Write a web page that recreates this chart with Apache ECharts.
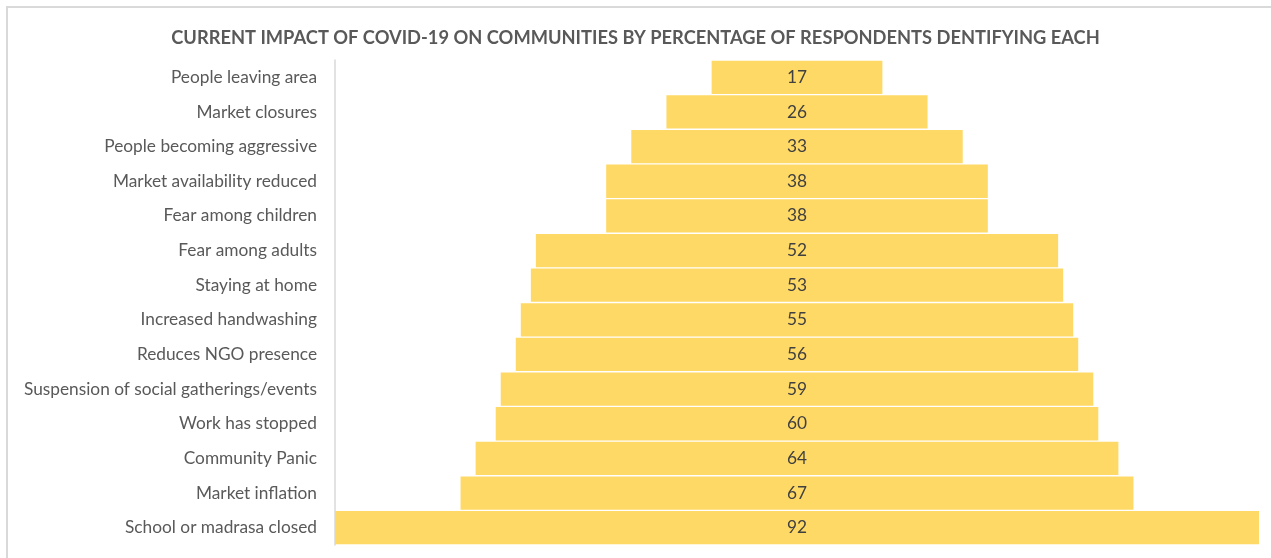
<!DOCTYPE html>
<html>
<head>
<meta charset="utf-8">
<script src="https://cdn.jsdelivr.net/npm/echarts@6/dist/echarts.min.js"></script>
<style>
  html, body { margin: 0; padding: 0; background: #fff; }
  #frame { position: absolute; left: 6px; top: 6px; width: 1275px; height: 560px; border: 2px solid #d9d9d9; box-sizing: border-box; }
  #chart { position: absolute; left: 0; top: 0; width: 1271px; height: 558px; }
</style>
</head>
<body>
<div id="frame"></div>
<div id="chart"></div>
<script>
// Impacts listed top to bottom, with the share of respondents naming each
const categories = [
  'People leaving area',
  'Market closures',
  'People becoming aggressive',
  'Market availability reduced',
  'Fear among children',
  'Fear among adults',
  'Staying at home',
  'Increased handwashing',
  'Reduces NGO presence',
  'Suspension of social gatherings/events',
  'Work has stopped',
  'Community Panic',
  'Market inflation',
  'School or madrasa closed'
];
const values = [17, 26, 33, 38, 38, 52, 53, 55, 56, 59, 60, 64, 67, 92];

const maxValue = Math.max(...values);
// Invisible spacer that centres each bar, giving the funnel shape
const spacer = values.map(v => (maxValue - v) / 2);

const chart = echarts.init(document.getElementById('chart'), null, { renderer: 'canvas' });
const font = 'Lato, sans-serif';

chart.setOption({
  animation: false,
  backgroundColor: 'transparent',
  title: {
    text: 'CURRENT IMPACT OF COVID-19 ON COMMUNITIES BY PERCENTAGE OF RESPONDENTS DENTIFYING EACH',
    left: 'center',
    top: 24,
    textStyle: { fontFamily: font, fontSize: 18.3, fontWeight: 'bold', color: '#595959' }
  },
  grid: { left: 335, right: 12, top: 60, bottom: 13, containLabel: false },
  xAxis: {
    type: 'value',
    min: 0,
    max: maxValue,
    show: false
  },
  yAxis: {
    type: 'category',
    inverse: true,
    data: categories,
    axisLine: { show: true, lineStyle: { color: '#d9d9d9', width: 1.5 } },
    axisTick: { show: false },
    axisLabel: { fontFamily: font, fontSize: 17.3, color: '#595959', margin: 18, padding: [3, 0, 0, 0] }
  },
  series: [
    {
      type: 'bar',
      stack: 'funnel',
      data: spacer,
      itemStyle: { color: 'transparent' },
      barCategoryGap: '4%',
      silent: true
    },
    {
      type: 'bar',
      stack: 'funnel',
      data: values,
      barCategoryGap: '4%',
      itemStyle: { color: '#ffd966' },
      label: {
        show: true,
        position: 'inside',
        fontFamily: font,
        fontSize: 17.3,
        color: '#404040',
        padding: [3, 0, 0, 0]
      }
    }
  ]
});
</script>
</body>
</html>
